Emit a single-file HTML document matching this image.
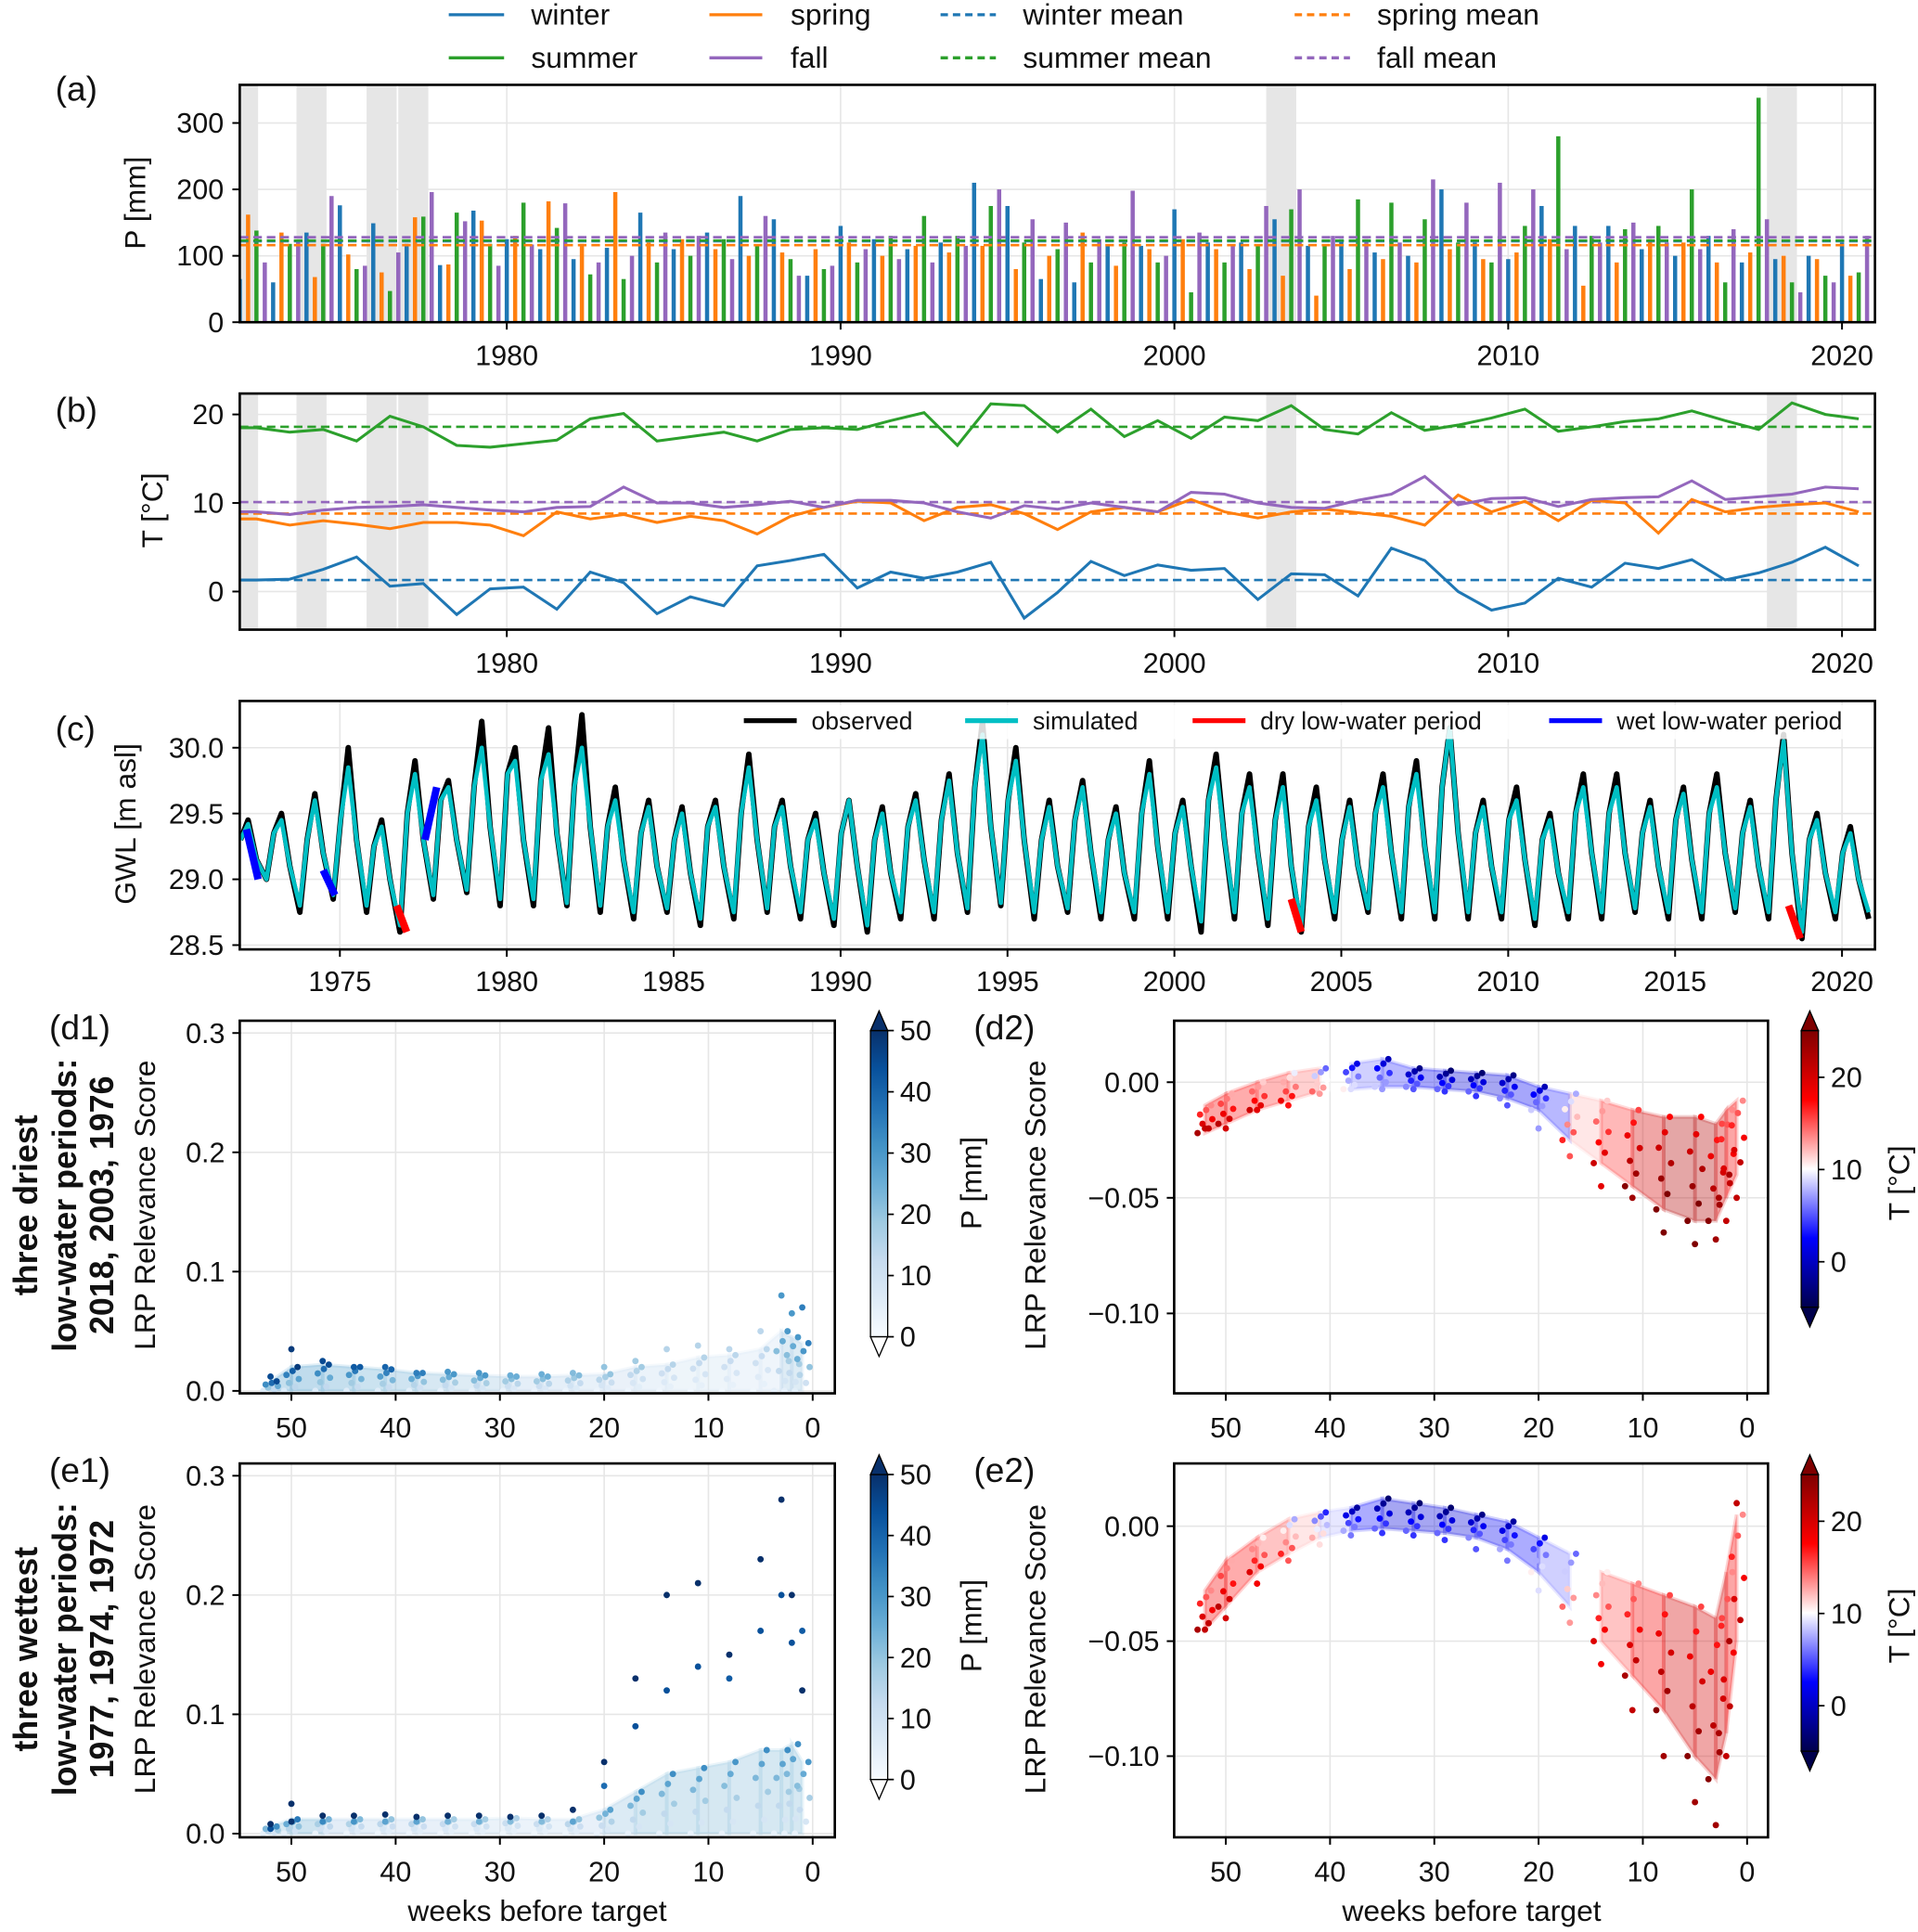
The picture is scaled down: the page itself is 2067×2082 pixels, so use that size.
<!DOCTYPE html>
<html><head><meta charset="utf-8"><style>
html,body{margin:0;padding:0;background:#fff}
svg{display:block}
text{font-family:"Liberation Sans","DejaVu Sans",sans-serif;fill:#111}
</style></head><body>
<svg id="fig" xmlns="http://www.w3.org/2000/svg" width="2067" height="2082" viewBox="0 0 1560 1571" preserveAspectRatio="none">
<defs>
<clipPath id="clipT"><rect x="195" y="60" width="1330" height="720"/></clipPath>
<clipPath id="clipD1"><rect x="195" y="830" width="484" height="303"/></clipPath>
<clipPath id="clipD2"><rect x="955" y="830" width="483" height="303"/></clipPath>
<clipPath id="clipE1"><rect x="195" y="1190" width="484" height="304"/></clipPath>
<clipPath id="clipE2"><rect x="955" y="1190" width="483" height="304"/></clipPath>
<linearGradient id="gBlues" x1="0" y1="1" x2="0" y2="0">
<stop offset="0" stop-color="#f7fbff"/><stop offset="0.125" stop-color="#deebf7"/><stop offset="0.25" stop-color="#c6dbef"/><stop offset="0.375" stop-color="#9ecae1"/><stop offset="0.5" stop-color="#6baed6"/><stop offset="0.625" stop-color="#4292c6"/><stop offset="0.75" stop-color="#2171b5"/><stop offset="0.875" stop-color="#08519c"/><stop offset="1" stop-color="#08306b"/>
</linearGradient>
<linearGradient id="gSeis" x1="0" y1="1" x2="0" y2="0">
<stop offset="0" stop-color="#00004c"/><stop offset="0.25" stop-color="#0000ff"/><stop offset="0.5" stop-color="#ffffff"/><stop offset="0.75" stop-color="#ff0000"/><stop offset="1" stop-color="#7f0000"/>
</linearGradient>
</defs>
<g>
<line x1="365" y1="12" x2="410" y2="12" stroke="#1f77b4" stroke-width="2.5"/><text x="432" y="20" font-size="24">winter</text>
<line x1="577" y1="12" x2="620" y2="12" stroke="#ff7f0e" stroke-width="2.5"/><text x="643" y="20" font-size="24">spring</text>
<line x1="765" y1="12" x2="810" y2="12" stroke="#1f77b4" stroke-width="2.5" stroke-dasharray="6,4"/><text x="832" y="20" font-size="24">winter mean</text>
<line x1="1053" y1="12" x2="1098" y2="12" stroke="#ff7f0e" stroke-width="2.5" stroke-dasharray="6,4"/><text x="1120" y="20" font-size="24">spring mean</text>
<line x1="365" y1="47" x2="410" y2="47" stroke="#2ca02c" stroke-width="2.5"/><text x="432" y="55" font-size="24">summer</text>
<line x1="577" y1="47" x2="620" y2="47" stroke="#9467bd" stroke-width="2.5"/><text x="643" y="55" font-size="24">fall</text>
<line x1="765" y1="47" x2="810" y2="47" stroke="#2ca02c" stroke-width="2.5" stroke-dasharray="6,4"/><text x="832" y="55" font-size="24">summer mean</text>
<line x1="1053" y1="47" x2="1098" y2="47" stroke="#9467bd" stroke-width="2.5" stroke-dasharray="6,4"/><text x="1120" y="55" font-size="24">fall mean</text>
</g>
<text x="45" y="82" font-size="28">(a)</text>
<text x="45" y="343" font-size="28">(b)</text>
<text x="45" y="602" font-size="28">(c)</text>
<text x="40" y="845" font-size="28">(d1)</text>
<text x="792" y="845" font-size="28">(d2)</text>
<text x="40" y="1205" font-size="28">(e1)</text>
<text x="792" y="1205" font-size="28">(e2)</text>
<text transform="translate(118,165) rotate(-90)" text-anchor="middle" font-size="24">P [mm]</text>
<text transform="translate(132,415) rotate(-90)" text-anchor="middle" font-size="24">T [°C]</text>
<text transform="translate(110,670) rotate(-90)" text-anchor="middle" font-size="24">GWL [m asl]</text>
<text transform="translate(126,980) rotate(-90)" text-anchor="middle" font-size="24">LRP Relevance Score</text>
<text transform="translate(850,980) rotate(-90)" text-anchor="middle" font-size="24">LRP Relevance Score</text>
<text transform="translate(126,1341) rotate(-90)" text-anchor="middle" font-size="24">LRP Relevance Score</text>
<text transform="translate(850,1341) rotate(-90)" text-anchor="middle" font-size="24">LRP Relevance Score</text>
<text x="437" y="1562" text-anchor="middle" font-size="24">weeks before target</text>
<text x="1197" y="1562" text-anchor="middle" font-size="24">weeks before target</text>
<text transform="translate(798,962) rotate(-90)" text-anchor="middle" font-size="24">P [mm]</text>
<text transform="translate(798,1322) rotate(-90)" text-anchor="middle" font-size="24">P [mm]</text>
<text transform="translate(1553,962) rotate(-90)" text-anchor="middle" font-size="24">T [°C]</text>
<text transform="translate(1553,1322) rotate(-90)" text-anchor="middle" font-size="24">T [°C]</text>
<g font-weight="bold" font-size="27">
<text transform="translate(30,980) rotate(-90)" text-anchor="middle">three driest</text>
<text transform="translate(62,980) rotate(-90)" text-anchor="middle">low-water periods:</text>
<text transform="translate(92,980) rotate(-90)" text-anchor="middle">2018, 2003, 1976</text>
</g>
<g font-weight="bold" font-size="27">
<text transform="translate(30,1341) rotate(-90)" text-anchor="middle">three wettest</text>
<text transform="translate(62,1341) rotate(-90)" text-anchor="middle">low-water periods:</text>
<text transform="translate(92,1341) rotate(-90)" text-anchor="middle">1977, 1974, 1972</text>
</g>
<g id="layer"></g>
</svg>
<script>
// ---- Panel (a) precipitation [mm], 1972..2020 ----
const pWinter=[65,60,135,176,149,118,86,168,125,110,95,112,165,110,135,190,155,70,145,125,110,120,210,175,65,60,115,115,170,120,120,155,115,125,105,100,200,120,95,175,145,145,110,100,130,90,95,100,120];
const pSpring=[162,135,68,102,75,158,87,153,130,182,118,196,120,125,110,100,105,110,120,100,115,105,115,80,100,135,85,110,125,110,80,70,40,80,95,90,110,95,105,125,55,90,125,120,90,105,100,95,70];
const pSummer=[138,118,118,80,47,159,165,118,180,142,72,65,90,100,125,115,95,80,90,130,160,130,175,120,110,90,120,90,45,90,115,170,115,185,180,155,120,90,145,280,130,140,145,200,60,338,60,70,75];
const pFall=[90,124,190,85,105,196,152,85,117,179,90,100,135,130,95,160,70,85,110,95,90,115,200,155,150,125,198,100,135,115,175,200,130,125,120,215,180,210,200,110,120,150,120,110,140,155,45,60,130];
const pMeans=[122,116,123,128];
// ---- Panel (b) temperature [°C] ----
const tSummer=[18.5,18.0,18.3,17.0,19.8,18.6,16.5,16.3,16.7,17.1,19.5,20.1,17.0,17.5,18.0,17.0,18.3,18.5,18.3,19.3,20.2,16.5,21.2,21.0,18.0,20.6,17.5,19.3,17.3,19.7,19.3,21.0,18.3,17.8,20.2,18.2,18.8,19.6,20.6,18.1,18.6,19.2,19.5,20.4,19.3,18.3,21.3,20.0,19.5];
const tFall=[9.0,8.7,9.2,9.5,9.6,9.8,9.5,9.2,9.0,9.5,9.6,11.8,10.0,10.0,9.5,9.8,10.2,9.5,10.3,10.3,10.0,9.0,8.3,9.7,9.3,10.0,9.5,9.0,11.2,11.0,10.0,9.5,9.4,10.3,11.0,13.0,9.8,10.5,10.6,9.6,10.4,10.6,10.7,12.5,10.4,10.7,11.0,11.8,11.6];
const tSpring=[8.2,7.5,8.0,7.6,7.1,7.8,7.8,7.5,6.3,9.0,8.2,8.7,7.8,8.5,8.0,6.5,8.5,9.5,10.2,10.0,8.0,9.5,9.8,8.8,7.0,9.0,9.5,9.0,10.4,9.0,8.3,9.0,9.3,8.9,8.5,7.5,10.9,9.0,10.2,8.0,10.3,10.0,6.6,10.4,9.0,9.5,9.8,10.0,9.0];
const tWinter=[1.3,1.4,2.5,3.9,0.6,0.9,-2.6,0.3,0.5,-2.0,2.2,1.0,-2.5,-0.6,-1.6,2.9,3.5,4.2,0.4,2.2,1.5,2.2,3.3,-3.0,-0.1,3.4,1.8,3.0,2.4,2.6,-0.9,2.0,1.9,-0.5,4.9,3.5,0.0,-2.1,-1.3,1.5,0.5,3.2,2.6,3.6,1.3,2.1,3.3,5.0,2.9];
const tMeans=[1.3,8.8,18.6,10.1];
const droughtStart=[1972.0,1973.7,1975.8,1976.75,2002.75,2017.75];
const droughtEnd=[1972.55,1974.6,1976.7,1977.65,2003.65,2018.65];
// ---- Panel (c) groundwater level [m asl] ----
const gwlWinter=[29.3,29.35,29.3,29.45,29.25,29.5,29.6,29.7,29.8,29.75,29.7,29.4,29.35,29.3,29.4,29.5,29.4,29.3,29.35,29.3,29.4,29.45,29.7,29.6,29.3,29.45,29.3,29.5,29.35,29.6,29.5,29.45,29.4,29.3,29.5,29.55,29.7,29.35,29.45,29.3,29.5,29.5,29.35,29.45,29.5,29.35,29.6,29.3,29.2];
const gwlPeakObs=[29.45,29.5,29.65,30.0,29.45,29.9,29.75,30.2,30.0,30.15,30.25,29.7,29.6,29.55,29.6,29.95,29.6,29.5,29.6,29.55,29.65,29.8,30.2,30.0,29.6,29.75,29.55,29.9,29.6,29.95,29.8,29.8,29.7,29.6,29.8,29.9,30.15,29.6,29.7,29.5,29.8,29.8,29.6,29.7,29.8,29.6,30.1,29.5,29.4];
const gwlSummer=[29.15,29.1,29.2,29.3,29.0,29.3,29.3,29.4,29.3,29.35,29.4,29.15,29.1,29.05,29.1,29.3,29.1,29.05,29.1,29.05,29.15,29.2,29.4,29.3,29.1,29.2,29.05,29.25,29.1,29.3,29.2,29.1,29.15,29.1,29.2,29.25,29.35,29.1,29.15,29.05,29.2,29.2,29.1,29.15,29.2,29.1,29.2,29.05,29.0];
const gwlLowObs=[29.0,28.75,28.85,28.75,28.6,28.85,28.9,28.8,28.8,28.8,28.75,28.7,28.75,28.65,28.7,28.75,28.7,28.65,28.6,28.7,28.7,28.75,28.8,28.7,28.75,28.7,28.7,28.7,28.6,28.7,28.65,28.6,28.7,28.75,28.7,28.7,28.7,28.7,28.65,28.7,28.7,28.75,28.7,28.7,28.75,28.7,28.55,28.7,28.7];
const gwlPeakSim=[29.42,29.45,29.6,29.85,29.4,29.8,29.7,30.0,29.9,29.95,30.0,29.6,29.55,29.5,29.55,29.85,29.55,29.45,29.6,29.5,29.6,29.75,30.1,29.9,29.55,29.7,29.5,29.8,29.55,29.85,29.7,29.7,29.6,29.55,29.7,29.8,30.15,29.55,29.6,29.45,29.7,29.7,29.55,29.65,29.7,29.55,30.05,29.45,29.35];
const gwlLowSim=[29.0,28.8,28.88,28.8,28.65,28.88,28.92,28.85,28.85,28.82,28.8,28.75,28.78,28.7,28.75,28.78,28.75,28.7,28.65,28.75,28.75,28.78,28.82,28.75,28.78,28.75,28.75,28.75,28.68,28.75,28.7,28.65,28.75,28.78,28.75,28.75,28.75,28.75,28.7,28.75,28.75,28.78,28.75,28.75,28.78,28.75,28.6,28.75,28.75];
const dryStart=[1976.7,2003.5,2018.4], dryEnd=[1977.0,2003.8,2018.75], dryV0=[28.8,28.85,28.8], dryV1=[28.6,28.6,28.55];
const wetStart=[1972.2,1974.5,1977.55], wetEnd=[1972.55,1974.85,1977.9], wetV0=[29.38,29.07,29.3], wetV1=[29.0,28.88,29.7];
// ---- Scatter panels: weeks before target ----
const weeks=[52,50,47,44,41,38,35,32,29,26,23,20,17,14,11,8,5,3,2,1];
const d1Lo=[0.0,0.0,0.0,0.0,0.0,0.0,0.0,0.0,0.0,0.0,0.0,0.0,0.0,0.0,0.0,0.0,0.0,0.0,0.0,0.0];
const d1Hi=[0.008,0.02,0.022,0.02,0.018,0.015,0.014,0.013,0.012,0.012,0.013,0.014,0.02,0.022,0.028,0.03,0.035,0.05,0.045,0.04];
const d1Top=[0.012,0.035,0.025,0.02,0.02,0.015,0.016,0.015,0.013,0.014,0.015,0.02,0.025,0.035,0.038,0.035,0.05,0.08,0.065,0.07];
const d1P=[45,48,45,42,40,35,30,30,25,25,22,20,18,15,15,14,14,30,30,35];
const e1Lo=[0.0,0.0,0.0,0.0,0.0,0.0,0.0,0.0,0.0,0.0,0.0,0.0,0.0,0.0,0.0,0.0,0.0,0.0,0.0,0.0];
const e1Hi=[0.006,0.012,0.012,0.012,0.012,0.012,0.012,0.012,0.013,0.012,0.012,0.02,0.035,0.05,0.055,0.06,0.07,0.07,0.075,0.06];
const e1Top=[0.008,0.025,0.015,0.015,0.016,0.014,0.015,0.015,0.014,0.015,0.02,0.06,0.13,0.2,0.21,0.15,0.23,0.28,0.2,0.12];
const e1Sec=[0.004,0.01,0.01,0.01,0.01,0.01,0.01,0.01,0.01,0.01,0.01,0.04,0.09,0.12,0.14,0.13,0.17,0.2,0.16,0.17];
const e1P=[40,45,30,28,25,25,22,22,20,20,25,35,40,40,40,38,40,40,40,38];
const d2Lo=[-0.022,-0.018,-0.012,-0.008,-0.004,-0.003,-0.002,-0.002,-0.003,-0.004,-0.007,-0.012,-0.025,-0.035,-0.045,-0.055,-0.06,-0.06,-0.05,-0.04];
const d2Hi=[-0.01,-0.005,0.0,0.004,0.006,0.008,0.01,0.006,0.005,0.004,0.003,-0.002,-0.005,-0.008,-0.012,-0.015,-0.015,-0.018,-0.012,-0.008];
const d2Out=[-0.02,-0.02,-0.012,-0.01,-0.005,-0.003,-0.003,-0.003,-0.004,-0.006,-0.01,-0.02,-0.032,-0.045,-0.05,-0.065,-0.07,-0.068,-0.06,-0.05];
const d2T=[18,17,16,14,10,6,4,2,1,1,2,4,12,16,20,22,22,20,18,18];
const e2Lo=[-0.045,-0.035,-0.02,-0.012,-0.005,-0.002,-0.001,-0.002,-0.003,-0.005,-0.01,-0.02,-0.035,-0.05,-0.065,-0.08,-0.1,-0.11,-0.09,-0.05];
const e2Hi=[-0.028,-0.015,-0.005,0.003,0.006,0.008,0.012,0.01,0.008,0.005,0.002,-0.005,-0.012,-0.02,-0.025,-0.03,-0.035,-0.04,-0.02,0.005];
const e2Out=[-0.045,-0.04,-0.025,-0.015,-0.008,-0.004,-0.003,-0.004,-0.006,-0.01,-0.015,-0.028,-0.042,-0.06,-0.08,-0.1,-0.12,-0.13,-0.1,0.01];
const e2T=[18,17,15,12,8,3,1,1,1,2,3,6,10,15,18,20,20,20,18,18];
const yearTicks=[1980,1990,2000,2010,2020];
const yearTicksC=[1975,1980,1985,1990,1995,2000,2005,2010,2015,2020];
const weekTicks=[50,40,30,20,10,0];

const NS='http://www.w3.org/2000/svg';
const L=document.getElementById('layer');
function mk(tag,attrs,parent){const e=document.createElementNS(NS,tag);for(const k in attrs)e.setAttribute(k,attrs[k]);(parent||L).appendChild(e);return e;}
const seasonCol=['#1f77b4','#ff7f0e','#2ca02c','#9467bd'];
const xT=y=>195+(y-1972)*27.15;
function lerpHex(a,b,t){const pa=[1,3,5].map(i=>parseInt(a.substr(i,2),16)),pb=[1,3,5].map(i=>parseInt(b.substr(i,2),16));return 'rgb('+pa.map((v,i)=>Math.round(v+(pb[i]-v)*t)).join(',')+')';}
function cmap(stops,t){t=Math.max(0,Math.min(1,t));const n=stops.length-1,i=Math.min(n-1,Math.floor(t*n));return lerpHex(stops[i],stops[i+1],t*n-i);}
const blues=['#f7fbff','#deebf7','#c6dbef','#9ecae1','#6baed6','#4292c6','#2171b5','#08519c','#08306b'];
const seis=['#00004c','#0000ff','#ffffff','#ff0000','#7f0000'];
const pCol=p=>cmap(blues,p/50);
const tCol=t=>cmap(seis,(t+5)/30);

function timeAxes(name,y0,y1,yTicks,yf,yfmt,xticks,xlabY){
  const g=mk('g',{});
  
  
  xticks.forEach(t=>{mk('line',{x1:xT(t),x2:xT(t),y1:y0,y2:y1,stroke:'#e6e6e6','stroke-width':1.2},g);
    mk('line',{x1:xT(t),x2:xT(t),y1:y1,y2:y1+6,stroke:'#000','stroke-width':1.5},g);
    const tx=mk('text',{x:xT(t),y:xlabY,'text-anchor':'middle','font-size':23},g);tx.textContent=t;});
  yTicks.forEach(v=>{mk('line',{x1:195,x2:1525,y1:yf(v),y2:yf(v),stroke:'#e6e6e6','stroke-width':1.2},g);
    mk('line',{x1:189,x2:195,y1:yf(v),y2:yf(v),stroke:'#000','stroke-width':1.5},g);
    const tx=mk('text',{x:182,y:yf(v)+8,'text-anchor':'end','font-size':23},g);tx.textContent=yfmt(v);});
  return g;
}
function frame(name,x0,y0,x1,y1){const r=mk('rect',{x:x0,y:y0,width:x1-x0,height:y1-y0,fill:'none',stroke:'#000','stroke-width':2});
  
  }
function spans(y0,y1){droughtStart.forEach((s,i)=>{const r=mk('rect',{x:xT(s),y:y0,width:xT(droughtEnd[i])-xT(s),height:y1-y0,fill:'#e6e6e6'});
  
  });}

// Panel a
const yA=v=>262-v*0.54;
spans(69,262);
timeAxes('panel-a',69,262,[0,100,200,300],yA,v=>v,yearTicks,297);
const gA=mk('g',{'clip-path':'url(#clipT)'});
[pWinter,pSpring,pSummer,pFall].forEach((arr,q)=>{arr.forEach((v,i)=>{const x=xT(1972+i+q*0.25);
  const b=mk('rect',{x:x-1.7,y:yA(v),width:3.4,height:262-yA(v),fill:seasonCol[q]},gA);
  
  });});
pMeans.forEach((m,q)=>{const l=mk('line',{x1:195,x2:1525,y1:yA(m),y2:yA(m),stroke:seasonCol[q],'stroke-width':2,'stroke-dasharray':'7,4'});
  
  });
frame('panel-a',195,69,1525,262);

// Panel b
const yB=v=>481-v*7.2;
spans(320,512);
timeAxes('panel-b',320,512,[0,10,20],yB,v=>v,yearTicks,547);
tMeans.forEach((m,q)=>{const l=mk('line',{x1:195,x2:1525,y1:yB(m),y2:yB(m),stroke:seasonCol[q],'stroke-width':2,'stroke-dasharray':'7,4'});
  
  });
const gB=mk('g',{'clip-path':'url(#clipT)'});
[tWinter,tSpring,tSummer,tFall].forEach((arr,q)=>{const pts=arr.map((v,i)=>xT(1972+i+0.5)+','+yB(v));
  pts.unshift(195+','+yB(arr[0]));
  const pl=mk('polyline',{points:pts.join(' '),fill:'none',stroke:seasonCol[q],'stroke-width':2.3},gB);
  
  });
frame('panel-b',195,320,1525,512);

// Panel c
const yC=v=>715-(v-29)*107;
timeAxes('panel-c',570,772,[28.5,29.0,29.5,30.0],yC,v=>v.toFixed(1),yearTicksC,806);
const gC=mk('g',{'clip-path':'url(#clipT)'});
function gwlPts(pk,lo){const p=[];pk.forEach((v,i)=>{
  p.push(xT(1972+i+0.02)+','+yC(gwlWinter[i]));
  p.push(xT(1972+i+0.25)+','+yC(v));
  p.push(xT(1972+i+0.5)+','+yC(gwlSummer[i]));
  p.push(xT(1972+i+0.8)+','+yC(lo[i]));});return p.join(' ');}
const obs=mk('polyline',{points:gwlPts(gwlPeakObs,gwlLowObs),fill:'none',stroke:'#000','stroke-width':4.5,'stroke-linejoin':'round'},gC);


const sim=mk('polyline',{points:gwlPts(gwlPeakSim,gwlLowSim),fill:'none',stroke:'#00bfc4','stroke-width':3.5,'stroke-linejoin':'round'},gC);


dryStart.forEach((s,i)=>{const l=mk('line',{x1:xT(s),y1:yC(dryV0[i]),x2:xT(dryEnd[i]),y2:yC(dryV1[i]),stroke:'#ff0000','stroke-width':6},gC);
  
  });
wetStart.forEach((s,i)=>{const l=mk('line',{x1:xT(s),y1:yC(wetV0[i]),x2:xT(wetEnd[i]),y2:yC(wetV1[i]),stroke:'#0000ff','stroke-width':6},gC);
  
  });
frame('panel-c',195,570,1525,772);
const lg=mk('g',{});


mk('rect',{x:595,y:573,width:928,height:28,fill:'#fff','fill-opacity':0.85},lg);
[['#000','observed',605],['#00bfc4','simulated',785],['#ff0000','dry low-water period',970],['#0000ff','wet low-water period',1260]].forEach(([c,t,x])=>{
  mk('line',{x1:x,x2:x+43,y1:586,y2:586,stroke:c,'stroke-width':4},lg);
  const tx=mk('text',{x:x+55,y:593,'font-size':20},lg);tx.textContent=t;});

// Scatter panels
function scatterPanel(cfg){
  const {name,x0,x1,y0,y1,xW,yf,yTicks,fmt,clip,cbX,cbY0,cbY1,cbTicks,cbf,grad}=cfg;
  const g=mk('g',{});
  
  
  weekTicks.forEach(w=>{mk('line',{x1:xW(w),x2:xW(w),y1:y0,y2:y1,stroke:'#e6e6e6','stroke-width':1.2},g);
    mk('line',{x1:xW(w),x2:xW(w),y1:y1,y2:y1+6,stroke:'#000','stroke-width':1.5},g);
    const t=mk('text',{x:xW(w),y:y1+36,'text-anchor':'middle','font-size':23},g);t.textContent=w;});
  yTicks.forEach(v=>{mk('line',{x1:x0,x2:x1,y1:yf(v),y2:yf(v),stroke:'#e6e6e6','stroke-width':1.2},g);
    mk('line',{x1:x0-6,x2:x0,y1:yf(v),y2:yf(v),stroke:'#000','stroke-width':1.5},g);
    const t=mk('text',{x:x0-12,y:yf(v)+8,'text-anchor':'end','font-size':23},g);t.textContent=fmt(v);});
  const cb=mk('g',{});
  
  
  mk('rect',{x:cbX,y:cbY1,width:14,height:cbY0-cbY1,fill:'url(#'+grad+')',stroke:'#000','stroke-width':1},cb);
  const top=grad==='gBlues'?'#08306b':'#7f0000',bot=grad==='gBlues'?'#ffffff':'#00004c';
  mk('polygon',{points:`${cbX},${cbY1} ${cbX+14},${cbY1} ${cbX+7},${cbY1-16}`,fill:top,stroke:'#000','stroke-width':1},cb);
  mk('polygon',{points:`${cbX},${cbY0} ${cbX+14},${cbY0} ${cbX+7},${cbY0+16}`,fill:bot,stroke:'#000','stroke-width':1},cb);
  cbTicks.forEach(v=>{mk('line',{x1:cbX+14,x2:cbX+19,y1:cbf(v),y2:cbf(v),stroke:'#000','stroke-width':1.3},cb);
    const t=mk('text',{x:cbX+24,y:cbf(v)+8,'font-size':23},cb);t.textContent=v;});
  const d=mk('g',{'clip-path':'url(#'+clip+')'});
  
  
  return d;
}
function drawBand(g,xW,yf,lo,hi,col,op){
  for(let i=0;i<weeks.length-1;i++){
    const q=mk('polygon',{points:`${xW(weeks[i])},${yf(lo[i])} ${xW(weeks[i+1])},${yf(lo[i+1])} ${xW(weeks[i+1])},${yf(hi[i+1])} ${xW(weeks[i])},${yf(hi[i])}`,fill:col(i),'fill-opacity':op,stroke:col(i),'stroke-opacity':op*0.5,'stroke-width':3},g);
    
    
  }
}
function dot(g,x,y,c,nm){const e=mk('circle',{cx:x,cy:y,r:2.6,fill:c},g);
  
  }
const jit=[-6,3,-2,6,-4,1,5];

const xW1=w=>661-w*8.48, xW2=w=>1421-w*8.48;
const yD1=v=>1131-v*970, yE1=v=>1491-v*970, yD2=v=>880-v*1880, yE2=v=>1241-v*1870;
const fmt1=v=>v.toFixed(1), fmt2=v=>(v<0?'\u2212':'')+Math.abs(v).toFixed(2);

// d1
const gd1=scatterPanel({name:'panel-d1',x0:195,x1:679,y0:830,y1:1133,xW:xW1,yf:yD1,yTicks:[0,0.1,0.2,0.3],fmt:fmt1,clip:'clipD1',cbX:708,cbY0:1087,cbY1:838,cbTicks:[0,10,20,30,40,50],cbf:v=>1087-v*4.98,grad:'gBlues'});
drawBand(gd1,xW1,yD1,d1Lo,d1Hi,i=>pCol(d1P[i]*0.5),0.45);
weeks.forEach((w,i)=>{for(let k=0;k<=6;k++){const f=k/6;dot(gd1,xW1(w)+jit[k],yD1(d1Lo[i]+(d1Hi[i]-d1Lo[i])*f),pCol(d1P[i]*(0.15+0.85*f)),'relevance-point');}
  dot(gd1,xW1(w),yD1(d1Top[i]),pCol(d1P[i]),'relevance-point');});
frame('panel-d1',195,830,679,1133);

// e1
const ge1=scatterPanel({name:'panel-e1',x0:195,x1:679,y0:1190,y1:1494,xW:xW1,yf:yE1,yTicks:[0,0.1,0.2,0.3],fmt:fmt1,clip:'clipE1',cbX:708,cbY0:1447,cbY1:1199,cbTicks:[0,10,20,30,40,50],cbf:v=>1447-v*4.96,grad:'gBlues'});
drawBand(ge1,xW1,yE1,e1Lo,e1Hi,i=>pCol(e1P[i]*0.45),0.45);
weeks.forEach((w,i)=>{for(let k=0;k<=6;k++){const f=k/6;dot(ge1,xW1(w)+jit[k],yE1(e1Lo[i]+(e1Hi[i]-e1Lo[i])*f),pCol(e1P[i]*(0.1+0.7*f)),'relevance-point');}
  dot(ge1,xW1(w),yE1(e1Sec[i]),pCol(e1P[i]*1.1),'relevance-point');
  dot(ge1,xW1(w),yE1(e1Top[i]),pCol(50),'relevance-point');});
frame('panel-e1',195,1190,679,1494);

// d2
const gd2=scatterPanel({name:'panel-d2',x0:955,x1:1438,y0:830,y1:1133,xW:xW2,yf:yD2,yTicks:[0,-0.05,-0.1],fmt:fmt2,clip:'clipD2',cbX:1465,cbY0:1063,cbY1:838,cbTicks:[0,10,20],cbf:v=>1026-v*7.5,grad:'gSeis'});
drawBand(gd2,xW2,yD2,d2Lo,d2Hi,i=>tCol(d2T[i]),0.35);
weeks.forEach((w,i)=>{for(let k=0;k<=6;k++){const f=k/6;dot(gd2,xW2(w)+jit[k],yD2(d2Lo[i]+(d2Hi[i]-d2Lo[i])*f),tCol(d2T[i]+(3-k)*1.5),'relevance-point');}
  dot(gd2,xW2(w),yD2(d2Out[i]),tCol(d2T[i]+3),'relevance-point');});
frame('panel-d2',955,830,1438,1133);

// e2
const ge2=scatterPanel({name:'panel-e2',x0:955,x1:1438,y0:1190,y1:1494,xW:xW2,yf:yE2,yTicks:[0,-0.05,-0.1],fmt:fmt2,clip:'clipE2',cbX:1465,cbY0:1424,cbY1:1199,cbTicks:[0,10,20],cbf:v=>1387-v*7.5,grad:'gSeis'});
drawBand(ge2,xW2,yE2,e2Lo,e2Hi,i=>tCol(e2T[i]),0.35);
weeks.forEach((w,i)=>{for(let k=0;k<=6;k++){const f=k/6;dot(ge2,xW2(w)+jit[k],yE2(e2Lo[i]+(e2Hi[i]-e2Lo[i])*f),tCol(e2T[i]+(3-k)*1.5),'relevance-point');}
  dot(ge2,xW2(w),yE2(e2Out[i]),tCol(e2T[i]+3),'relevance-point');});
frame('panel-e2',955,1190,1438,1494);
</script>
</body></html>
